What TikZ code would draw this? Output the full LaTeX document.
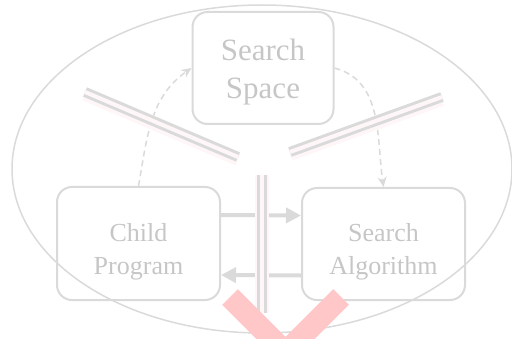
\documentclass[tikz,border=0pt]{standalone}
\usepackage{fontspec}
\setmainfont{Liberation Serif}
\usetikzlibrary{arrows.meta}
\definecolor{fadegray}{RGB}{218,218,218}
\definecolor{fadetext}{RGB}{198,198,198}
\definecolor{fadered}{RGB}{255,199,199}

\begin{document}
\begin{tikzpicture}[x=1pt,y=1pt,
  box/.style={draw=fadegray,line width=2pt,rounded corners=15pt,inner sep=0pt},
  boxtext/.style={text=fadetext,align=center,inner sep=0pt},
  flow/.style={fadegray,line width=4pt,-{Triangle[length=15pt,width=15pt]}},
  loopback/.style={fadegray,line width=1.5pt,dash pattern=on 6pt off 4pt,-{Stealth[length=10pt,width=9pt]}},
  halo/.style={red!3,line width=14pt},
  road/.style={fadegray,line width=3pt,double=red!3,double distance=4pt}]
\useasboundingbox (0,0) rectangle (512,338);
\clip (0,0) rectangle (512,338);
% outer loop
\draw [fadegray,line width=1.5pt] (262,169) ellipse (250 and 164);
% the three parts
\node [box,minimum width=141pt,minimum height=112pt] (space) at (263,270) {};
\node [box,minimum width=163pt,minimum height=113pt] (child) at (138.5,94.5) {};
\node [box,minimum width=163pt,minimum height=112pt] (algo) at (383.5,94) {};
\node [boxtext,font=\fontsize{31}{38}\selectfont] (spacetext) at ([yshift=-4pt]space.center) {Search\\Space};
\node [boxtext,font=\fontsize{26}{33}\selectfont] (childtext) at ([yshift=-8pt]child.center) {Child\\Program};
\node [boxtext,font=\fontsize{26}{33}\selectfont] (algotext) at ([yshift=-8pt]algo.center) {Search\\Algorithm};
% arrows
\draw [flow] ([yshift=28.5pt]child.east) -- ([yshift=28.5pt]algo.west);
\draw [flow] ([yshift=-31.5pt]algo.west) -- ([yshift=-31.5pt]child.east);
\draw [loopback] (child.north) to[out=80,in=215] (space.west);
\draw [loopback] (space.east) to[out=-15,in=98] (algo.north);
% the three cuts
\draw [halo] (85,244) -- (238,179);
\draw [halo] (290,184) -- (442,239);
\draw [halo] (262,163) -- (262,25);
\draw [road] (85,246) -- (238,181);
\draw [road] (290,186) -- (442,241);
\draw [road] (262,163) -- (262,25);
% cross mark
\draw [fadered,line width=22pt,line join=miter] (230,41) -- (285.5,-14.5) -- (341,41);
\end{tikzpicture}
\end{document}
